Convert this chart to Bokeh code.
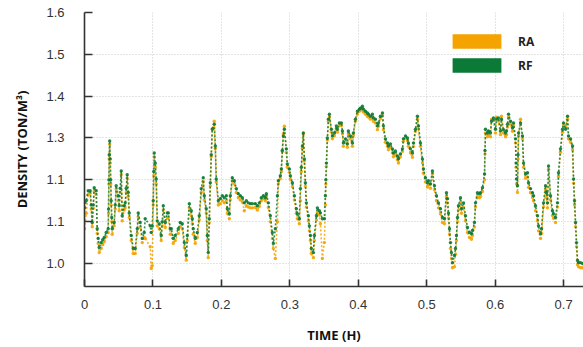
from bokeh.plotting import figure
from bokeh.models import Range1d, FixedTicker, Legend, LegendItem, ColumnDataSource
from bokeh.embed import file_html
from bokeh.resources import INLINE

time_h = [
    0.000, 0.0025, 0.0054, 0.0083, 0.0098, 0.0113, 0.0128, 0.0142, 0.0171, 0.0186,
    0.0200, 0.0215, 0.0244, 0.0266, 0.0288, 0.0317, 0.0346, 0.0351, 0.0356, 0.0361,
    0.0368, 0.0376, 0.0383, 0.0390, 0.0398, 0.0405, 0.0434, 0.0449, 0.0463, 0.0493,
    0.0507, 0.0522, 0.0537, 0.0551, 0.0580, 0.0595, 0.0610, 0.0624, 0.0639, 0.0654,
    0.0683, 0.0712, 0.0741, 0.0771, 0.0785, 0.0814, 0.0844, 0.0873, 0.0887, 0.0960,
    0.0975, 0.0990, 0.1004, 0.1012, 0.1019, 0.1034, 0.1048, 0.1063, 0.1092, 0.1121,
    0.1136, 0.1151, 0.1180, 0.1209, 0.1224, 0.1253, 0.1268, 0.1297, 0.1326, 0.1370,
    0.1399, 0.1428, 0.1458, 0.1487, 0.1502, 0.1531, 0.1560, 0.1575, 0.1589, 0.1618,
    0.1648, 0.1677, 0.1706, 0.1735, 0.1750, 0.1779, 0.1794, 0.1808, 0.1823, 0.1838,
    0.1852, 0.1867, 0.1896, 0.1911, 0.1925, 0.1955, 0.1984, 0.2013, 0.2042, 0.2072,
    0.2086, 0.2116, 0.2130, 0.2159, 0.2189, 0.2218, 0.2247, 0.2276, 0.2306, 0.2335,
    0.2364, 0.2393, 0.2423, 0.2452, 0.2496, 0.2525, 0.2554, 0.2583, 0.2613, 0.2642,
    0.2657, 0.2686, 0.2715, 0.2744, 0.2759, 0.2788, 0.2818, 0.2832, 0.2861, 0.2876,
    0.2890, 0.2905, 0.2920, 0.2949, 0.2963, 0.2993, 0.3007, 0.3037, 0.3066, 0.3095,
    0.3110, 0.3139, 0.3154, 0.3168, 0.3183, 0.3197, 0.3212, 0.3227, 0.3241, 0.3271,
    0.3285, 0.3300, 0.3314, 0.3344, 0.3358, 0.3388, 0.3402, 0.3431, 0.3446, 0.3475,
    0.3504, 0.3519, 0.3526, 0.3534, 0.3548, 0.3563, 0.3578, 0.3607, 0.3621, 0.3651,
    0.3680, 0.3694, 0.3724, 0.3753, 0.3768, 0.3782, 0.3812, 0.3841, 0.3855, 0.3885,
    0.3914, 0.3928, 0.3958, 0.3987, 0.4016, 0.4031, 0.4060, 0.4075, 0.4104, 0.4133,
    0.4148, 0.4177, 0.4206, 0.4221, 0.4250, 0.4279, 0.4294, 0.4323, 0.4353, 0.4367,
    0.4396, 0.4426, 0.4440, 0.4469, 0.4499, 0.4513, 0.4542, 0.4572, 0.4586, 0.4615,
    0.4645, 0.4659, 0.4689, 0.4718, 0.4732, 0.4762, 0.4791, 0.4806, 0.4835, 0.4864,
    0.4879, 0.4908, 0.4937, 0.4952, 0.4981, 0.5010, 0.5025, 0.5054, 0.5083, 0.5113,
    0.5142, 0.5171, 0.5200, 0.5230, 0.5259, 0.5288, 0.5303, 0.5318, 0.5332, 0.5347,
    0.5361, 0.5376, 0.5405, 0.5420, 0.5434, 0.5449, 0.5463, 0.5493, 0.5507, 0.5537,
    0.5566, 0.5595, 0.5624, 0.5654, 0.5668, 0.5697, 0.5712, 0.5741, 0.5770, 0.5785,
    0.5814, 0.5844, 0.5851, 0.5858, 0.5887, 0.5902, 0.5931, 0.5946, 0.5975, 0.6004,
    0.6019, 0.6048, 0.6077, 0.6092, 0.6121, 0.6151, 0.6165, 0.6180, 0.6195, 0.6224,
    0.6253, 0.6268, 0.6297, 0.6305, 0.6312, 0.6326, 0.6334, 0.6341, 0.6370, 0.6399,
    0.6414, 0.6443, 0.6472, 0.6487, 0.6516, 0.6545, 0.6560, 0.6589, 0.6618, 0.6633,
    0.6662, 0.6677, 0.6706, 0.6735, 0.6750, 0.6764, 0.6779, 0.6808, 0.6837, 0.6852,
    0.6881, 0.6910, 0.6925, 0.6954, 0.6984, 0.6998, 0.7028, 0.7057, 0.7071, 0.7101,
    0.7130, 0.7145, 0.7159, 0.7174, 0.7188, 0.7203, 0.7218, 0.7247, 0.7276,
]

rf_density = [
    1.133, 1.150, 1.174, 1.174, 1.140, 1.098, 1.140, 1.181, 1.174, 1.083,
    1.060, 1.038, 1.050, 1.057, 1.062, 1.074, 1.083, 1.130, 1.200, 1.260,
    1.293, 1.250, 1.200, 1.150, 1.110, 1.083, 1.098, 1.140, 1.186, 1.162,
    1.138, 1.180, 1.221, 1.114, 1.138, 1.145, 1.180, 1.212, 1.170, 1.121,
    1.067, 1.036, 1.036, 1.083, 1.121, 1.098, 1.060, 1.074, 1.107, 1.090,
    1.074, 1.090, 1.150, 1.220, 1.264, 1.240, 1.202, 1.102, 1.095, 1.067,
    1.100, 1.138, 1.098, 1.121, 1.121, 1.083, 1.083, 1.060, 1.067, 1.083,
    1.098, 1.095, 1.050, 1.019, 1.067, 1.143, 1.126, 1.107, 1.083, 1.060,
    1.074, 1.114, 1.179, 1.205, 1.162, 1.131, 1.067, 1.026, 1.107, 1.193,
    1.260, 1.321, 1.333, 1.281, 1.202, 1.150, 1.155, 1.162, 1.157, 1.162,
    1.131, 1.119, 1.162, 1.205, 1.198, 1.179, 1.167, 1.162, 1.157, 1.145,
    1.150, 1.145, 1.143, 1.143, 1.143, 1.138, 1.145, 1.157, 1.162, 1.157,
    1.167, 1.145, 1.114, 1.074, 1.048, 1.083, 1.162, 1.198, 1.210, 1.226,
    1.270, 1.305, 1.321, 1.274, 1.238, 1.226, 1.210, 1.193, 1.162, 1.131,
    1.119, 1.107, 1.179, 1.230, 1.281, 1.312, 1.250, 1.193, 1.145, 1.114,
    1.090, 1.067, 1.036, 1.026, 1.067, 1.114, 1.133, 1.126, 1.121, 1.107,
    1.107, 1.162, 1.200, 1.240, 1.300, 1.345, 1.357, 1.321, 1.305, 1.312,
    1.329, 1.321, 1.336, 1.336, 1.317, 1.288, 1.298, 1.286, 1.317, 1.305,
    1.288, 1.312, 1.345, 1.364, 1.369, 1.371, 1.376, 1.369, 1.364, 1.360,
    1.357, 1.352, 1.357, 1.348, 1.345, 1.329, 1.336, 1.352, 1.360, 1.329,
    1.298, 1.288, 1.281, 1.286, 1.274, 1.264, 1.269, 1.257, 1.250, 1.262,
    1.274, 1.298, 1.305, 1.300, 1.288, 1.274, 1.264, 1.288, 1.321, 1.352,
    1.329, 1.288, 1.250, 1.226, 1.205, 1.193, 1.198, 1.190, 1.221, 1.186,
    1.162, 1.145, 1.131, 1.110, 1.107, 1.169, 1.155, 1.120, 1.083, 1.050,
    1.026, 1.002, 1.019, 1.036, 1.067, 1.110, 1.138, 1.157, 1.131, 1.145,
    1.114, 1.086, 1.074, 1.071, 1.079, 1.098, 1.145, 1.169, 1.167, 1.169,
    1.181, 1.214, 1.270, 1.321, 1.312, 1.317, 1.312, 1.340, 1.348, 1.321,
    1.345, 1.348, 1.317, 1.345, 1.320, 1.312, 1.317, 1.333, 1.357, 1.340,
    1.324, 1.336, 1.298, 1.240, 1.202, 1.186, 1.260, 1.312, 1.336, 1.305,
    1.240, 1.214, 1.217, 1.193, 1.179, 1.169, 1.162, 1.138, 1.114, 1.090,
    1.071, 1.083, 1.145, 1.186, 1.169, 1.145, 1.233, 1.162, 1.126, 1.119,
    1.110, 1.145, 1.217, 1.274, 1.321, 1.336, 1.321, 1.352, 1.305, 1.298,
    1.281, 1.202, 1.150, 1.098, 1.050, 1.007, 1.002, 1.002, 1.000,
]

ra_density = [
    1.083, 1.120, 1.165, 1.168, 1.130, 1.088, 1.132, 1.172, 1.165, 1.072,
    1.048, 1.026, 1.036, 1.045, 1.052, 1.064, 1.074, 1.120, 1.190, 1.250,
    1.285, 1.240, 1.190, 1.140, 1.100, 1.070, 1.090, 1.130, 1.178, 1.150,
    1.126, 1.170, 1.212, 1.102, 1.128, 1.133, 1.170, 1.204, 1.160, 1.110,
    1.055, 1.024, 1.024, 1.072, 1.112, 1.086, 1.050, 1.062, 1.060, 1.040,
    0.988, 0.995, 1.140, 1.210, 1.255, 1.230, 1.190, 1.090, 1.083, 1.055,
    1.090, 1.128, 1.086, 1.110, 1.110, 1.070, 1.070, 1.048, 1.055, 1.072,
    1.088, 1.083, 1.038, 1.008, 1.055, 1.133, 1.114, 1.095, 1.070, 1.048,
    1.062, 1.104, 1.170, 1.196, 1.152, 1.120, 1.055, 1.014, 1.097, 1.185,
    1.255, 1.322, 1.340, 1.275, 1.195, 1.140, 1.143, 1.150, 1.145, 1.150,
    1.120, 1.107, 1.152, 1.198, 1.190, 1.170, 1.157, 1.152, 1.147, 1.126,
    1.138, 1.135, 1.133, 1.133, 1.134, 1.128, 1.136, 1.150, 1.155, 1.150,
    1.160, 1.134, 1.100, 1.060, 1.036, 1.012, 1.100, 1.190, 1.203, 1.220,
    1.268, 1.310, 1.328, 1.266, 1.230, 1.218, 1.202, 1.184, 1.152, 1.120,
    1.107, 1.095, 1.150, 1.220, 1.275, 1.310, 1.245, 1.185, 1.135, 1.102,
    1.078, 1.055, 1.024, 1.014, 1.055, 1.104, 1.123, 1.116, 1.095, 1.012,
    1.050, 1.140, 1.190, 1.232, 1.295, 1.340, 1.350, 1.314, 1.298, 1.305,
    1.322, 1.314, 1.330, 1.330, 1.310, 1.280, 1.290, 1.278, 1.310, 1.298,
    1.280, 1.306, 1.340, 1.358, 1.364, 1.366, 1.370, 1.362, 1.357, 1.352,
    1.350, 1.345, 1.350, 1.340, 1.336, 1.320, 1.328, 1.346, 1.354, 1.320,
    1.290, 1.280, 1.272, 1.278, 1.265, 1.255, 1.260, 1.248, 1.240, 1.255,
    1.268, 1.292, 1.300, 1.294, 1.280, 1.264, 1.254, 1.280, 1.316, 1.345,
    1.322, 1.280, 1.240, 1.216, 1.195, 1.183, 1.188, 1.180, 1.214, 1.176,
    1.150, 1.133, 1.119, 1.098, 1.095, 1.160, 1.145, 1.108, 1.070, 1.036,
    1.012, 0.990, 0.992, 1.022, 1.055, 1.100, 1.128, 1.147, 1.120, 1.134,
    1.102, 1.074, 1.062, 1.058, 1.067, 1.087, 1.135, 1.160, 1.157, 1.160,
    1.172, 1.200, 1.262, 1.312, 1.303, 1.308, 1.303, 1.345, 1.342, 1.312,
    1.350, 1.340, 1.308, 1.352, 1.312, 1.303, 1.308, 1.326, 1.350, 1.333,
    1.316, 1.330, 1.288, 1.230, 1.190, 1.170, 1.250, 1.305, 1.345, 1.298,
    1.230, 1.204, 1.207, 1.182, 1.169, 1.158, 1.150, 1.126, 1.102, 1.078,
    1.060, 1.072, 1.135, 1.177, 1.158, 1.133, 1.225, 1.152, 1.115, 1.108,
    1.098, 1.135, 1.208, 1.266, 1.314, 1.330, 1.328, 1.345, 1.298, 1.290,
    1.272, 1.192, 1.140, 1.088, 1.040, 0.997, 0.992, 0.990, 0.990,
]

y_ticks = [1.0, 1.1, 1.2, 1.3, 1.4, 1.5, 1.6]
y_tick_labels = ["1.0", "1.1", "1.1", "1.3", "1.4", "1.5", "1.6"]
x_ticks = [0, 0.1, 0.2, 0.3, 0.4, 0.5, 0.6, 0.7]
x_tick_labels = ["0", "0.1", "0.2", "0.3", "0.4", "0.5", "0.6", "0.7"]
series_names = ["RA", "RF"]

assert len(time_h) == len(rf_density) == len(ra_density)

ORANGE = "#F5A300"
GREEN = "#0B7A36"
NAN = float("nan")

p = figure(width=583, height=347, output_backend="svg", toolbar_location=None,
           x_range=Range1d(0, 0.729), y_range=Range1d(0.945, 1.6),
           min_border_left=84, min_border_right=0, min_border_top=12, min_border_bottom=61)
p.outline_line_color = None
p.background_fill_color = "white"

src = ColumnDataSource(dict(t=time_h, ra=ra_density, rf=rf_density))
# orange series (RA) underneath, green series (RF) on top
p.line("t", "ra", source=src, line_color=ORANGE, line_width=1.6, line_dash="2 2", line_alpha=0.85)
p.scatter("t", "ra", source=src, size=3.4, fill_color=ORANGE, line_color=None, fill_alpha=0.9)
p.line("t", "rf", source=src, line_color=GREEN, line_width=1.6, line_dash="2 2", line_alpha=0.85)
p.scatter("t", "rf", source=src, size=3.4, fill_color=GREEN, line_color=None, fill_alpha=0.9)

# legend swatches (placeholder renderers that draw nothing inside the plot)
sw_ra = p.quad(left=[NAN], right=[NAN], top=[NAN], bottom=[NAN], fill_color=ORANGE, line_color=None)
sw_rf = p.quad(left=[NAN], right=[NAN], top=[NAN], bottom=[NAN], fill_color=GREEN, line_color=None)
legend = Legend(items=[LegendItem(label=series_names[0], renderers=[sw_ra]),
                       LegendItem(label=series_names[1], renderers=[sw_rf])],
                location=(362, 212), glyph_width=61, glyph_height=18, label_height=18,
                spacing=6, padding=0, margin=0, label_standoff=11,
                border_line_color=None, background_fill_alpha=0,
                label_text_font="Open Sans", label_text_font_style="bold",
                label_text_font_size="12px", label_text_color="#222222")
p.add_layout(legend)

for ax in (p.xaxis[0], p.yaxis[0]):
    ax.axis_line_color = "#333333"
    ax.axis_line_width = 1.6
    ax.major_tick_line_color = "#333333"
    ax.major_tick_line_width = 1.6
    ax.major_tick_out = 0
    ax.minor_tick_line_color = None
    ax.major_label_text_font = "Liberation Sans"
    ax.major_label_text_font_size = "13px"
    ax.major_label_text_color = "#333333"
    ax.axis_label_text_font = "Open Sans"
    ax.axis_label_text_font_style = "bold"
    ax.axis_label_text_font_size = "13px"
    ax.axis_label_text_color = "#111111"

p.xaxis.ticker = FixedTicker(ticks=x_ticks)
p.xaxis.major_label_overrides = {t: s for t, s in zip(x_ticks, x_tick_labels)}
p.xaxis.major_tick_in = 7
p.xaxis.major_label_standoff = 13
p.xaxis.axis_label = "TIME (H)"
p.xaxis.axis_label_standoff = 14

p.yaxis.ticker = FixedTicker(ticks=y_ticks)
p.yaxis.major_label_overrides = {t: s for t, s in zip(y_ticks, y_tick_labels)}
p.yaxis.major_tick_in = 8
p.yaxis.major_label_standoff = 20
p.yaxis.axis_label = "DENSITY (TON/M³)"
p.yaxis.axis_label_standoff = 12

for g in (p.xgrid[0], p.ygrid[0]):
    g.grid_line_color = "#c8c8c8"
    g.grid_line_dash = "1 2"
    g.grid_line_width = 1

open("out.html", "w").write(file_html(p, INLINE))
